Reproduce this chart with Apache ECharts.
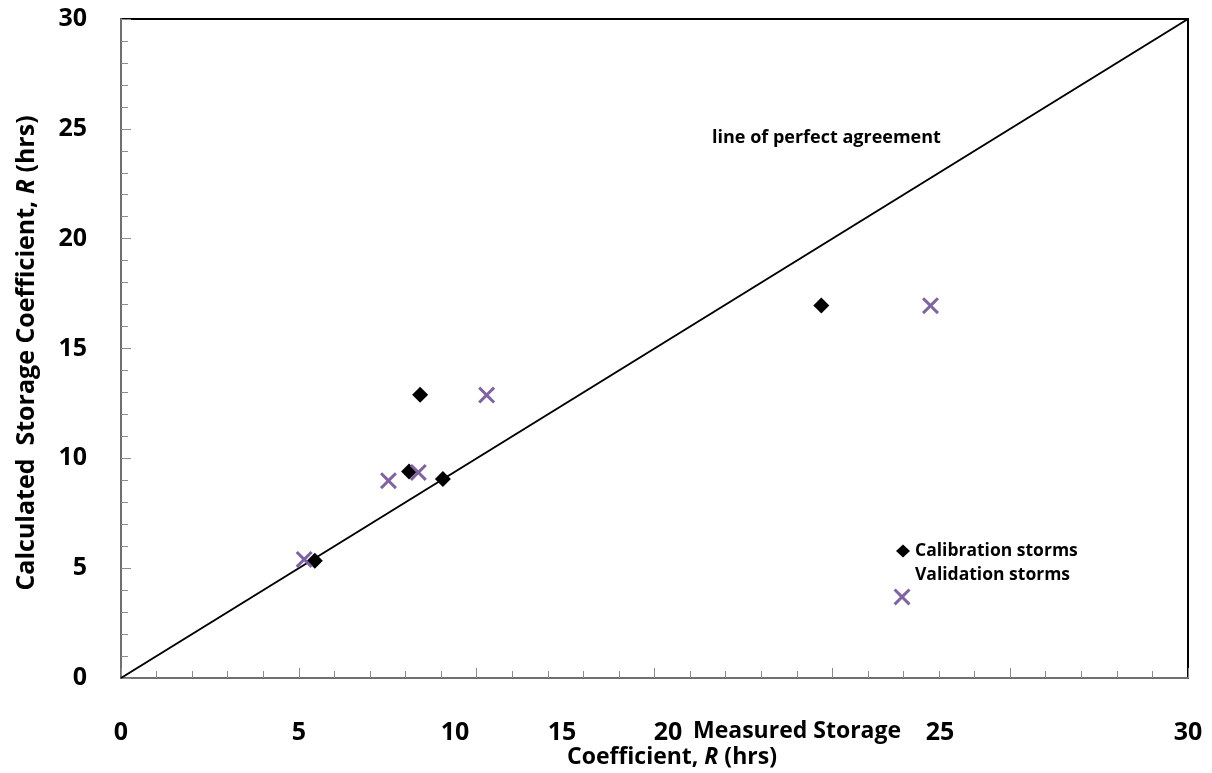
<!DOCTYPE html>
<html>
<head>
<meta charset="utf-8">
<script src="https://cdn.jsdelivr.net/npm/echarts@6/dist/echarts.min.js"></script>
<style>
  html, body { margin: 0; padding: 0; background: #fff; }
  #chart { width: 1212px; height: 773px; }
</style>
</head>
<body>
<div id="chart"></div>
<script>
// data
const calibX = [5.45, 8.10, 8.41, 9.05, 19.69]
const calibY = [5.34, 9.40, 12.89, 9.06, 16.96]
const validX = [5.15, 7.52, 8.36, 10.28, 22.76]
const validY = [5.40, 8.98, 9.36, 12.88, 16.95]
const agreeLine = [[0, 0], [30, 30]]
const validKeyPos = [21.96, 3.69] // stray legend cross under the key
const axisTicks = [0, 5, 10, 15, 20, 25, 30]
// the x tick labels in the original are squeezed left by the axis title
const xLabelAt = [0, 5, 9.39, 12.40, 15.38, 23.03, 30]

const FONT = 'Open Sans'
const PURPLE = '#8064A2'
const CROSS = 'path://M0,2L2,0L8,6L14,0L16,2L10,8L16,14L14,16L8,10L2,16L0,14L6,8Z'

const zip = (xs, ys) => xs.map((x, i) => [x, ys[i]])

const axisCommon = {
  min: axisTicks[0],
  max: axisTicks[axisTicks.length - 1],
  interval: 5,
  splitLine: { show: false },
  axisLine: { lineStyle: { color: '#6f6f6f', width: 2 } },
  axisTick: { inside: true, length: 10, lineStyle: { color: '#8c8c8c', width: 1 } },
  minorTick: { show: true, splitNumber: 5, length: 7, lineStyle: { color: '#8c8c8c', width: 1 } },
  axisLabel: { color: '#000', fontFamily: FONT, fontWeight: 'bold', fontSize: 25 }
}

const xLabelText = v => {
  let best = 0
  xLabelAt.forEach((p, i) => { if (Math.abs(p - v) < Math.abs(xLabelAt[best] - v)) best = i })
  return String(axisTicks[best])
}

const richTitle = size => ({
  b: { fill: '#000', fontFamily: FONT, fontWeight: 'bold', fontSize: size },
  i: { fill: '#000', fontFamily: FONT, fontWeight: 'bold', fontStyle: 'italic', fontSize: size }
})

const chart = echarts.init(document.getElementById('chart'))
chart.setOption({
  animation: false,
  grid: {
    left: 121, right: 24, top: 19, bottom: 95,
    show: true, borderColor: '#000', borderWidth: 2
  },
  xAxis: {
    ...axisCommon,
    type: 'value',
    axisLabel: {
      ...axisCommon.axisLabel,
      margin: 42,
      customValues: xLabelAt,
      formatter: xLabelText
    }
  },
  yAxis: {
    ...axisCommon,
    type: 'value',
    axisLabel: { ...axisCommon.axisLabel, margin: 34 }
  },
  legend: {
    orient: 'vertical',
    left: 891,
    top: 535,
    itemWidth: 14,
    itemHeight: 13,
    itemGap: 2,
    textStyle: { color: '#000', fontFamily: FONT, fontWeight: 'bold', fontSize: 17.5, lineHeight: 22 },
    data: [
      { name: 'Calibration storms', icon: 'diamond' },
      { name: 'Validation storms', icon: 'rect', itemStyle: { opacity: 0 } }
    ]
  },
  series: [
    {
      name: 'agreement',
      type: 'line',
      data: agreeLine,
      symbol: 'none',
      lineStyle: { color: '#000', width: 2 },
      z: 1
    },
    {
      name: 'Calibration storms',
      type: 'scatter',
      data: zip(calibX, calibY),
      symbol: 'diamond',
      symbolSize: 16,
      itemStyle: { color: '#000', opacity: 1 },
      z: 3
    },
    {
      name: 'Validation storms',
      type: 'scatter',
      data: zip(validX, validY),
      symbol: CROSS,
      symbolSize: 17,
      itemStyle: { color: PURPLE, opacity: 1 },
      z: 4,
      markPoint: {
        symbol: CROSS,
        symbolSize: 17,
        itemStyle: { color: PURPLE },
        label: { show: false },
        data: [{ coord: validKeyPos }]
      }
    }
  ],
  graphic: [
    {
      type: 'text',
      left: 712, top: 129,
      style: { text: 'line of perfect agreement', fill: '#000', font: `bold 18px ${FONT}` }
    },
    {
      type: 'text',
      left: 693, top: 720,
      style: { text: 'Measured Storage', fill: '#000', font: `bold 23px ${FONT}` }
    },
    {
      type: 'text',
      left: 567, top: 746,
      style: { text: '{b|Coefficient, }{i|R}{b| (hrs)}', rich: richTitle(23) }
    },
    {
      type: 'text',
      x: 27, y: 353,
      rotation: Math.PI / 2,
      style: {
        text: '{b|Calculated  Storage Coefficient, }{i|R}{b| (hrs)}',
        align: 'center',
        verticalAlign: 'middle',
        rich: richTitle(25)
      }
    }
  ]
})
</script>
</body>
</html>
